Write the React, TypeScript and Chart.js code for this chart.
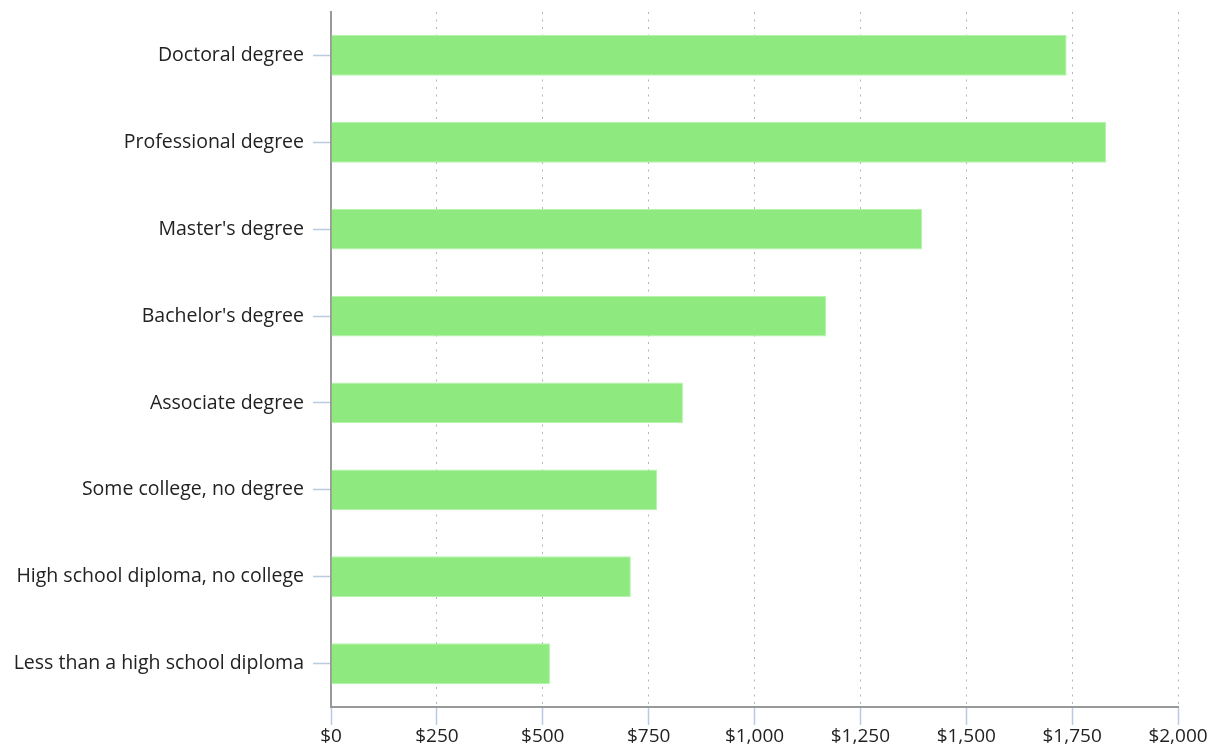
import React, { useEffect, useRef } from "react";
import { Chart, registerables } from "chart.js";

Chart.register(...registerables);

const categories = [
  "Doctoral degree",
  "Professional degree",
  "Master's degree",
  "Bachelor's degree",
  "Associate degree",
  "Some college, no degree",
  "High school diploma, no college",
  "Less than a high school diploma",
];
const weeklyEarnings = [1737, 1830, 1396, 1169, 831, 770, 708, 517];
const xMin = 0;
const xMax = 2000;
const xStep = 250;

const FONT = "'Open Sans', 'Noto Sans', sans-serif";

export default function App() {
  const ref = useRef<HTMLCanvasElement | null>(null);

  useEffect(() => {
    document.body.style.margin = "0";
    const canvas = ref.current;
    if (!canvas) return;
    const chart = new Chart(canvas, {
      type: "bar",
      data: {
        labels: categories,
        datasets: [
          {
            data: weeklyEarnings,
            backgroundColor: "#8eea7e",
            borderColor: "#b4f3aa",
            borderWidth: 1,
            barPercentage: 0.47,
            categoryPercentage: 1,
          },
        ],
      },
      options: {
        indexAxis: "y",
        animation: false,
        responsive: false,
        maintainAspectRatio: false,
        layout: { padding: { top: 12, right: 35, bottom: 0, left: 0 } },
        plugins: {
          legend: { display: false },
          tooltip: { enabled: false },
        },
        scales: {
          x: {
            type: "linear",
            min: xMin,
            max: xMax,
            ticks: {
              stepSize: xStep,
              color: "#222",
              font: { family: FONT, size: 19 },
              padding: 0,
              callback: (v: any) => "$" + Number(v).toLocaleString("en-US"),
            },
            grid: {
              color: "#b5b5b5",
              lineWidth: 1,
              drawOnChartArea: true,
              drawTicks: true,
              tickLength: 18,
              tickColor: "#b9cbe0",
              tickWidth: 1.5,
              tickBorderDash: [],
            },
            border: { display: true, color: "#999", width: 2, dash: [2, 5.5] },
            afterFit: (scale: any) => {
              scale.height = 43;
              scale.paddingLeft = 0;
              scale.paddingRight = 0;
            },
          },
          y: {
            type: "category",
            ticks: {
              color: "#222",
              font: { family: FONT, size: 19.5 },
              padding: 9,
            },
            grid: {
              offset: false,
              drawOnChartArea: false,
              drawTicks: true,
              tickLength: 18,
              tickColor: "#b9cbe0",
              tickWidth: 1.5,
            },
            border: { display: true, color: "#999", width: 2 },
            afterFit: (scale: any) => {
              scale.width = 331;
              scale.paddingTop = 0;
              scale.paddingBottom = 0;
            },
          },
        },
      },
    });
    return () => chart.destroy();
  }, []);

  return (
    <div style={{ width: 1213, height: 750, background: "#fff" }}>
      <canvas ref={ref} width={1213} height={750} style={{ display: "block" }} />
    </div>
  );
}
